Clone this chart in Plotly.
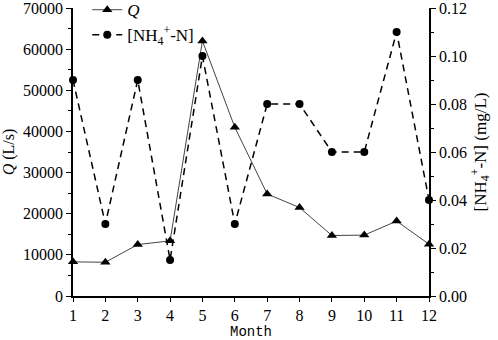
import plotly.graph_objects as go

months = [1, 2, 3, 4, 5, 6, 7, 8, 9, 10, 11, 12]
q_values = [8300, 8200, 12500, 13400, 62000, 41000, 24800, 21500, 14700, 14800, 18200, 12600]
nh4_values = [0.09, 0.03, 0.09, 0.015, 0.10, 0.03, 0.08, 0.08, 0.06, 0.06, 0.11, 0.04]
q_ticks = [0, 10000, 20000, 30000, 40000, 50000, 60000, 70000]
nh4_ticks = [0.00, 0.02, 0.04, 0.06, 0.08, 0.10, 0.12]

FONT = "Liberation Serif, Times New Roman, serif"

fig = go.Figure()
fig.add_trace(go.Scatter(
    x=months, y=q_values, name="<i>Q</i>", mode="lines+markers",
    line=dict(color="#444444", width=1),
    marker=dict(symbol="triangle-up", size=9, color="black"),
    cliponaxis=False, yaxis="y"))
fig.add_trace(go.Scatter(
    x=months, y=nh4_values, name="[NH<sub>4</sub><sup>+</sup>-N]", mode="lines+markers",
    line=dict(color="black", width=1.5, dash="7px,5px"),
    marker=dict(symbol="circle", size=8, color="black"),
    cliponaxis=False, yaxis="y2"))

fig.update_layout(
    width=498, height=340,
    margin=dict(l=73, r=69, t=8, b=44, autoexpand=False),
    paper_bgcolor="white", plot_bgcolor="white",
    font=dict(family=FONT, size=15, color="black"),
    showlegend=True,
    legend=dict(x=0.04, y=1.055, xanchor="left", yanchor="top",
                bgcolor="rgba(0,0,0,0)", font=dict(family=FONT, size=17),
                tracegroupgap=0, itemwidth=30),
    xaxis=dict(
        range=[1, 12], tickvals=months, ticktext=[str(m) for m in months],
        showgrid=False, zeroline=False, showline=True, linecolor="black", linewidth=1.5,
        ticks="outside", ticklen=4, tickcolor="black", automargin=False,
        ticklabeloverflow="allow",
        title=dict(text="Month", font=dict(family="Liberation Mono, monospace", size=14), standoff=2),
        tickfont=dict(family=FONT, size=16)),
    yaxis=dict(
        range=[0, 70000], tickvals=q_ticks, ticktext=[str(v) for v in q_ticks],
        showgrid=False, zeroline=False, showline=True, linecolor="black", linewidth=1.5,
        ticks="outside", ticklen=5, tickcolor="black", automargin=False,
        ticklabeloverflow="allow",
        minor=dict(ticks="outside", ticklen=3, dtick=5000, tickcolor="black"),
        title=dict(text="<i>Q</i> (L/s)", font=dict(family=FONT, size=16), standoff=4),
        tickfont=dict(family=FONT, size=16)),
    yaxis2=dict(
        range=[0, 0.12], tickvals=nh4_ticks, ticktext=["%.2f" % v for v in nh4_ticks],
        overlaying="y", side="right",
        showgrid=False, zeroline=False, showline=True, linecolor="black", linewidth=1.5,
        ticks="outside", ticklen=5, tickcolor="black", automargin=False,
        ticklabeloverflow="allow",
        minor=dict(ticks="outside", ticklen=3, dtick=0.01, tickcolor="black"),
        title=dict(text="[NH<sub>4</sub><sup>+</sup>-N] (mg/L)", font=dict(family=FONT, size=17), standoff=8),
        tickfont=dict(family=FONT, size=16)),
)

fig.write_html("out.html", config={"displayModeBar": False},
               post_script="document.body.style.margin='0';")
